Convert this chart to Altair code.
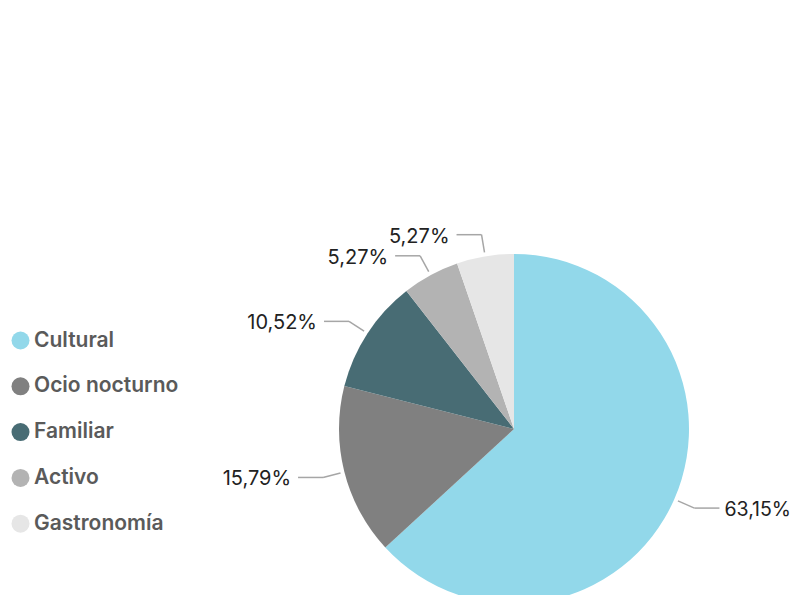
import altair as alt
import pandas as pd

categories = ["Cultural", "Ocio nocturno", "Familiar", "Activo", "Gastronomía"]
values = [63.15, 15.79, 10.52, 5.27, 5.27]
colors = ["#92d8ea", "#808080", "#486c74", "#b3b3b3", "#e6e6e6"]

df = pd.DataFrame({"cat": categories, "value": values, "idx": list(range(len(categories)))})

W, H = 782, 587
CX, CY, R = 506, 421, 175
R1, R2, HL, GAP = R + 4, R + 22, 25, 7

base = alt.Chart(df)

pie = base.mark_arc(radius=R).encode(
    theta=alt.Theta("value:Q", stack=True),
    order=alt.Order("idx:Q"),
    color=alt.Color(
        "cat:N",
        scale=alt.Scale(domain=categories, range=colors),
        sort=categories,
        legend=alt.Legend(
            title=None,
            orient="none",
            legendX=2,
            legendY=322,
            symbolType="circle",
            symbolSize=324,
            symbolStrokeWidth=0,
            labelFont="Inter",
            labelFontSize=21,
            labelFontWeight=600,
            labelColor="#5a5a5a",
            labelOffset=3,
            rowPadding=23.8,
            padding=0,
        ),
    ),
    x=alt.value(CX),
    y=alt.value(CY),
)

geo = base.transform_window(
    cum="sum(value)", sort=[alt.SortField("idx")], frame=[None, 0]
).transform_joinaggregate(
    total="sum(value)"
).transform_calculate(
    mid="(datum.cum - datum.value/2) / datum.total * 2 * PI",
).transform_calculate(
    s="sin(datum.mid)", c="cos(datum.mid)"
).transform_calculate(
    sign="datum.s >= 0 ? 1 : -1",
    x1=f"{CX} + {R1} * datum.s",
    y1=f"{CY} - {R1} * datum.c",
    x2=f"{CX} + {R2} * datum.s",
    y2=f"{CY} - {R2} * datum.c",
).transform_calculate(
    x3=f"datum.x2 + datum.sign * {HL}",
    tx=f"datum.x2 + datum.sign * {HL + GAP}",
    label="replace(format(datum.value, '.2f'), '.', ',') + '%'",
)

diag = geo.mark_rule(color="#a6a6a6", strokeWidth=1.5).encode(
    x=alt.X("x1:Q", scale=None), y=alt.Y("y1:Q", scale=None),
    x2="x2:Q", y2="y2:Q",
)
horiz = geo.mark_rule(color="#a6a6a6", strokeWidth=1.5).encode(
    x=alt.X("x2:Q", scale=None), y=alt.Y("y2:Q", scale=None),
    x2="x3:Q", y2="y2:Q",
)
text_r = geo.transform_filter("datum.sign > 0").mark_text(
    align="left", baseline="middle", font="Inter", fontSize=19.5, color="#222222", dy=2, dx=-2
).encode(x=alt.X("tx:Q", scale=None), y=alt.Y("y2:Q", scale=None), text="label:N")
text_l = geo.transform_filter("datum.sign < 0").mark_text(
    align="right", baseline="middle", font="Inter", fontSize=20, color="#222222", dy=2
).encode(x=alt.X("tx:Q", scale=None), y=alt.Y("y2:Q", scale=None), text="label:N")

chart = alt.layer(pie, diag, horiz, text_r, text_l).properties(
    width=W, height=H, padding=0, autosize=alt.AutoSizeParams(type="none")
).configure_view(stroke=None)

chart.save("out.html", embed_options={"renderer": "svg", "actions": False})
